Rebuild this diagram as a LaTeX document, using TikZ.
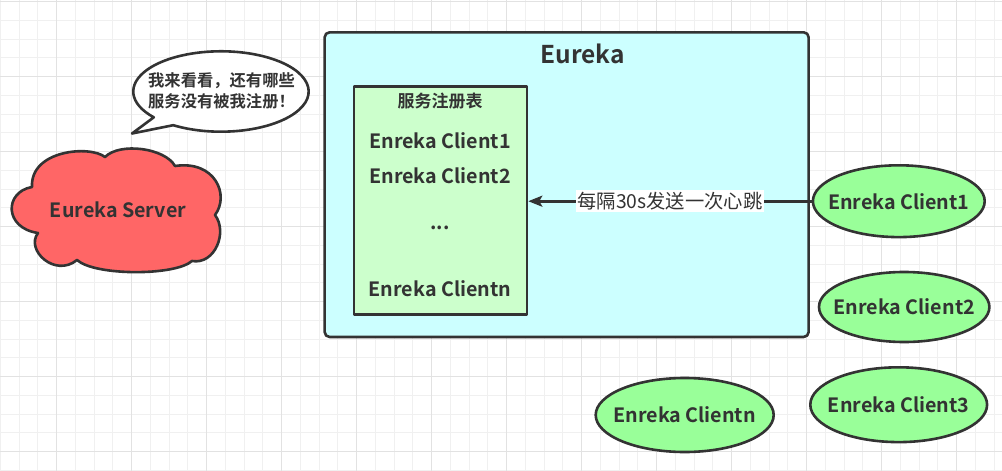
\documentclass[tikz,border=0pt]{standalone}
\usepackage{fontspec}
\setmainfont{Noto Sans CJK SC}[BoldFont={Noto Sans CJK SC Bold}]
\usetikzlibrary{arrows.meta,shapes.geometric}
\definecolor{ink}{HTML}{333333}
\definecolor{gridminor}{HTML}{F0F0F0}
\definecolor{gridmajor}{HTML}{E2E2E2}
\definecolor{cloudred}{HTML}{FF6666}
\definecolor{eurekacyan}{HTML}{CCFFFF}
\definecolor{regfill}{HTML}{CCFFCC}
\definecolor{clientgreen}{HTML}{99FF99}
\tikzset{
  minorline/.style={draw=gridminor, line width=1pt},
  majorline/.style={draw=gridmajor, line width=1pt},
  shapeborder/.style={draw=ink, line width=2.6pt},
  clientnode/.style={shapeborder, ellipse, fill=clientgreen, inner sep=0pt},
  listtext/.style={font=\bfseries\fontsize{19.7}{22}\selectfont, text=ink, inner sep=0pt},
  heartbeat/.style={-{Stealth[length=14pt,width=11pt,inset=3pt]}, draw=ink, line width=2.6pt},
}
\begin{document}
\begin{tikzpicture}[x=1pt,y=-1pt,line join=round]
\useasboundingbox (0,0) rectangle (1002,471);
\fill[white] (0,0) rectangle (1002,471);
% grid
\foreach \i in {0,...,53} \draw[minorline] ({0.45+18.75*\i},0) -- ++(0,471);
\foreach \j in {0,...,25} \draw[minorline] (0,{1.7+18.75*\j}) -- ++(1002,0);
\foreach \i in {0,...,12} \draw[majorline] ({56.7+75*\i},0) -- ++(0,471);
\foreach \j in {0,...,6} \draw[majorline] (0,{1.7+75*\j}) -- ++(1002,0);

% Eureka container
\node[shapeborder, fill=eurekacyan, rounded corners=5pt, minimum width=484pt,
  minimum height=304.7pt, inner sep=0pt] (eureka) at (566.65,184.65) {};
\node[font=\bfseries\fontsize{24.5}{28}\selectfont, text=ink, inner sep=0pt] (eurekatitle) at (582.5,54) {Eureka};

% registry table
\node[shapeborder, fill=regfill, minimum width=173pt, minimum height=228.4pt,
  inner sep=0pt] (reg) at (440.5,200.5) {};
\node[font=\bfseries\fontsize{17}{20}\selectfont, text=ink, inner sep=0pt] (regtitle) at (440,101) {服务注册表};
\node[listtext] (r1) at (440,140.5) {Enreka Client1};
\node[listtext] (r2) at (440,176) {Enreka Client2};
\node[listtext] (rdots) at (440,228) {...};
\node[listtext] (rn) at (440,289) {Enreka Clientn};

% clients
\node[clientnode, minimum width=171.8pt, minimum height=71.8pt] (c1) at (898.8,201.2) {};
\node[listtext] (c1text) at (c1.center) {Enreka Client1};
\node[clientnode, minimum width=170.4pt, minimum height=70pt] (c2) at (904.2,307) {};
\node[listtext] (c2text) at (c2.center) {Enreka Client2};
\node[clientnode, minimum width=176.8pt, minimum height=74.8pt] (c3) at (898.7,404.7) {};
\node[listtext] (c3text) at (c3.center) {Enreka Client3};
\node[clientnode, minimum width=178pt, minimum height=74pt] (cn) at (684.7,415) {};
\node[listtext] (cntext) at (cn.center) {Enreka Clientn};

% heartbeat connector
\draw[heartbeat] (c1.west) -- (c1.west -| reg.east)
  node[midway, fill=white, text=ink, inner sep=2pt, font=\fontsize{19.3}{21}\selectfont] (hb) {每隔30s发送一次心跳};

% Eureka server cloud
\draw[shapeborder, fill=cloudred]
  (32,187) .. controls (4,192) and (4,228) .. (38,233)
  .. controls (25,250) and (55,278) .. (77,260)
  .. controls (95,276) and (175,276) .. (192,261)
  .. controls (215,265) and (228,232) .. (215,215)
  .. controls (230,195) and (215,160) .. (175,166)
  .. controls (165,148) and (120,142) .. (105,157)
  .. controls (90,145) and (30,150) .. (32,187) -- cycle;
\node[listtext] (server) at (118,210) {Eureka Server};

% speech bubble
\coordinate (tailtip) at (132,133.5);
\draw[shapeborder, fill=white]
  (173.2,125.2) arc[start angle=123, end angle=-220, x radius=87.7, y radius=40.2]
  -- (tailtip) -- cycle;
\node[font=\bfseries\fontsize{16.3}{21}\selectfont, text=ink, align=center, inner sep=0pt] (bubble) at (221.5,90.5) {我来看看，还有哪些\\服务没有被我注册！};
\end{tikzpicture}
\end{document}
